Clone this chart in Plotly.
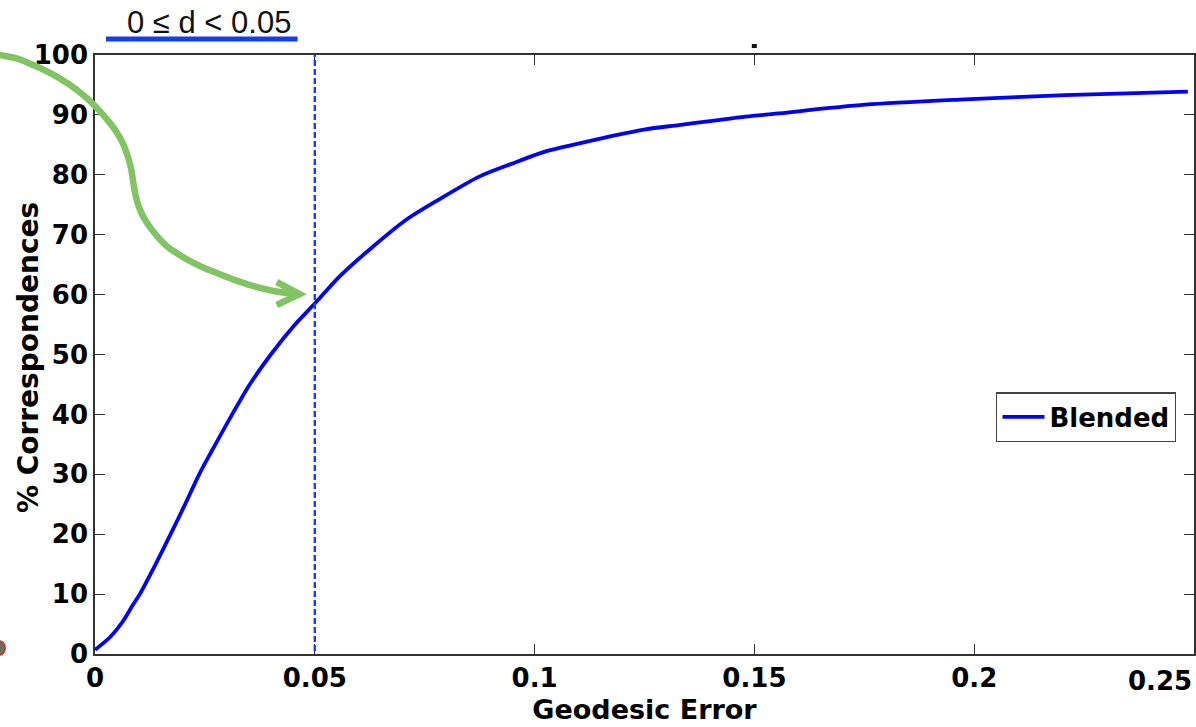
import plotly.graph_objects as go

# Cumulative share of correspondences within a given geodesic error
geodesic_error = [0, 0.0034, 0.0062, 0.0087, 0.0102, 0.0138, 0.0172, 0.0205, 0.0237,
                  0.0274, 0.0312, 0.0352, 0.0400, 0.0455, 0.05, 0.0556, 0.0632, 0.0708,
                  0.0783, 0.0874, 0.095, 0.1025, 0.11, 0.1177, 0.1252, 0.1328, 0.1404,
                  0.148, 0.1548, 0.1752, 0.1979, 0.2206, 0.2486]
pct_correspondences = [0.7, 2.8, 5.3, 8.3, 10.0, 15.0, 20.0, 25.0, 30.0,
                       35.0, 40.0, 45.0, 50.0, 55.0, 58.5, 63.0, 68.0, 72.5,
                       75.9, 79.7, 81.9, 83.9, 85.2, 86.5, 87.6, 88.3, 89.0,
                       89.7, 90.2, 91.7, 92.6, 93.3, 93.9]
series_name = "Blended"
threshold = 0.05
range_label = "0 ≤ d < 0.05"
x_title = "Geodesic Error"
y_title = "% Correspondences"

x_ticks = [0, 0.05, 0.1, 0.15, 0.2, 0.25]
x_tick_text = ["0", "0.05", "0.1", "0.15", "0.2", ""]
y_ticks = list(range(0, 101, 10))

W, H = 1196, 727
L_M, R_M, T_M, B_M = 95, 0, 55, 73
PW, PH = W - L_M - R_M, H - T_M - B_M


def px(x, y):
    """Pixel position on the page -> paper coordinates."""
    return (x - L_M) / PW, (H - B_M - y) / PH


def catmull_path(points, steps=10):
    """Smooth SVG path through pixel points, expressed in paper coordinates."""
    pts = [points[0]] + points + [points[-1]]
    out = []
    for i in range(1, len(pts) - 2):
        p0, p1, p2, p3 = pts[i - 1], pts[i], pts[i + 1], pts[i + 2]
        for s in range(steps):
            t = s / steps
            t2, t3 = t * t, t * t * t
            xx = 0.5 * ((2 * p1[0]) + (-p0[0] + p2[0]) * t +
                        (2 * p0[0] - 5 * p1[0] + 4 * p2[0] - p3[0]) * t2 +
                        (-p0[0] + 3 * p1[0] - 3 * p2[0] + p3[0]) * t3)
            yy = 0.5 * ((2 * p1[1]) + (-p0[1] + p2[1]) * t +
                        (2 * p0[1] - 5 * p1[1] + 4 * p2[1] - p3[1]) * t2 +
                        (-p0[1] + 3 * p1[1] - 3 * p2[1] + p3[1]) * t3)
            out.append(px(xx, yy))
    out.append(px(*points[-1]))
    return "M " + " L ".join(f"{a:.5f},{b:.5f}" for a, b in out)


fig = go.Figure()

fig.add_trace(go.Scatter(
    x=geodesic_error, y=pct_correspondences, mode="lines", name=series_name,
    line=dict(color="#0000ff", width=3.8, shape="spline", smoothing=0.8),
))

font_main = "DejaVu Sans, Verdana, sans-serif"

# threshold marker
fig.add_shape(type="line", xref="x", yref="y", x0=threshold, x1=threshold, y0=-1, y1=100,
              line=dict(color="#1a3cff", width=2.4, dash="6px,3px"), layer="above")

# green curved arrow pointing at the threshold crossing
arrow_pts = [(-8, 54), (15, 58), (33, 65), (50, 73), (67, 83), (82, 94), (95, 106),
             (105, 117), (113, 127), (119, 136), (124, 146), (128, 157), (131, 168),
             (133, 180), (135, 192), (138, 204), (143, 216), (150, 227), (158, 237),
             (168, 247), (183, 257), (200, 266), (217, 273), (235, 280), (250, 285),
             (265, 289), (280, 292), (297, 294)]
fig.add_shape(type="path", xref="paper", yref="paper", path=catmull_path(arrow_pts),
              line=dict(color="#80c463", width=6.5), layer="above")
head = [px(277, 282), px(300, 294), px(277, 305)]
fig.add_shape(type="path", xref="paper", yref="paper",
              path="M " + " L ".join(f"{a:.5f},{b:.5f}" for a, b in head),
              line=dict(color="#80c463", width=6.5), layer="above")

# underline beneath the range label
u0, u1 = px(106, 39), px(298, 39)
fig.add_shape(type="line", xref="paper", yref="paper", x0=u0[0], x1=u1[0], y0=u0[1], y1=u1[1],
              line=dict(color="#1040ee", width=5))

# small stray marks
d0, d1 = px(753, 44), px(758, 48)
fig.add_shape(type="rect", xref="paper", yref="paper", x0=d0[0], x1=d1[0], y0=d0[1], y1=d1[1],
              fillcolor="#111111", line=dict(width=0))
b0, b1 = px(-6, 641), px(5, 655)
fig.add_shape(type="circle", xref="paper", yref="paper", x0=b0[0], x1=b1[0], y0=b0[1], y1=b1[1],
              fillcolor="#6b6b5e", line=dict(color="#d03020", width=1.5))

lx, ly = px(209, 22)
fig.add_annotation(xref="paper", yref="paper", x=lx, y=ly, text=range_label, showarrow=False,
                   xanchor="center", yanchor="middle",
                   font=dict(family="Liberation Sans, Arial, sans-serif", size=31, color="#111111"))

# y axis title, placed close to the tick labels
tx, ty = px(28, 358)
fig.add_annotation(xref="paper", yref="paper", x=tx, y=ty, text=f"<b>{y_title}</b>",
                   showarrow=False, textangle=-90, xanchor="center", yanchor="middle",
                   font=dict(family=font_main, size=28, color="#000"))

# last x tick label sits inside the right edge
fig.add_annotation(xref="x", yref="paper", x=0.25, y=-0.016, text="<b>0.25</b>", showarrow=False,
                   xanchor="right", yanchor="top", font=dict(family=font_main, size=26, color="#000"))

axis_common = dict(showline=True, linecolor="#333333", linewidth=1.5, mirror="ticks",
                   ticks="inside", ticklen=10, tickcolor="#333333", tickwidth=1.3,
                   showgrid=False, zeroline=False,
                   tickfont=dict(family=font_main, size=26, color="#000000", weight="bold"))

fig.update_layout(
    width=W, height=H,
    margin=dict(l=L_M, r=R_M, t=T_M, b=B_M),
    paper_bgcolor="white", plot_bgcolor="white",
    showlegend=True,
    legend=dict(x=0.82, y=0.437, xanchor="left", yanchor="top",
                bgcolor="white", bordercolor="#444444", borderwidth=1.3,
                font=dict(family=font_main, size=26, color="#000", weight="bold"),
                itemwidth=42, tracegroupgap=0),
    xaxis=dict(range=[0, 0.25], tickvals=x_ticks, ticktext=x_tick_text,
               title=dict(text=x_title, standoff=8,
                          font=dict(family=font_main, size=27, color="#000", weight="bold")),
               **axis_common),
    yaxis=dict(range=[0, 100], tickvals=y_ticks, **axis_common),
)

fig.write_html("out.html")
